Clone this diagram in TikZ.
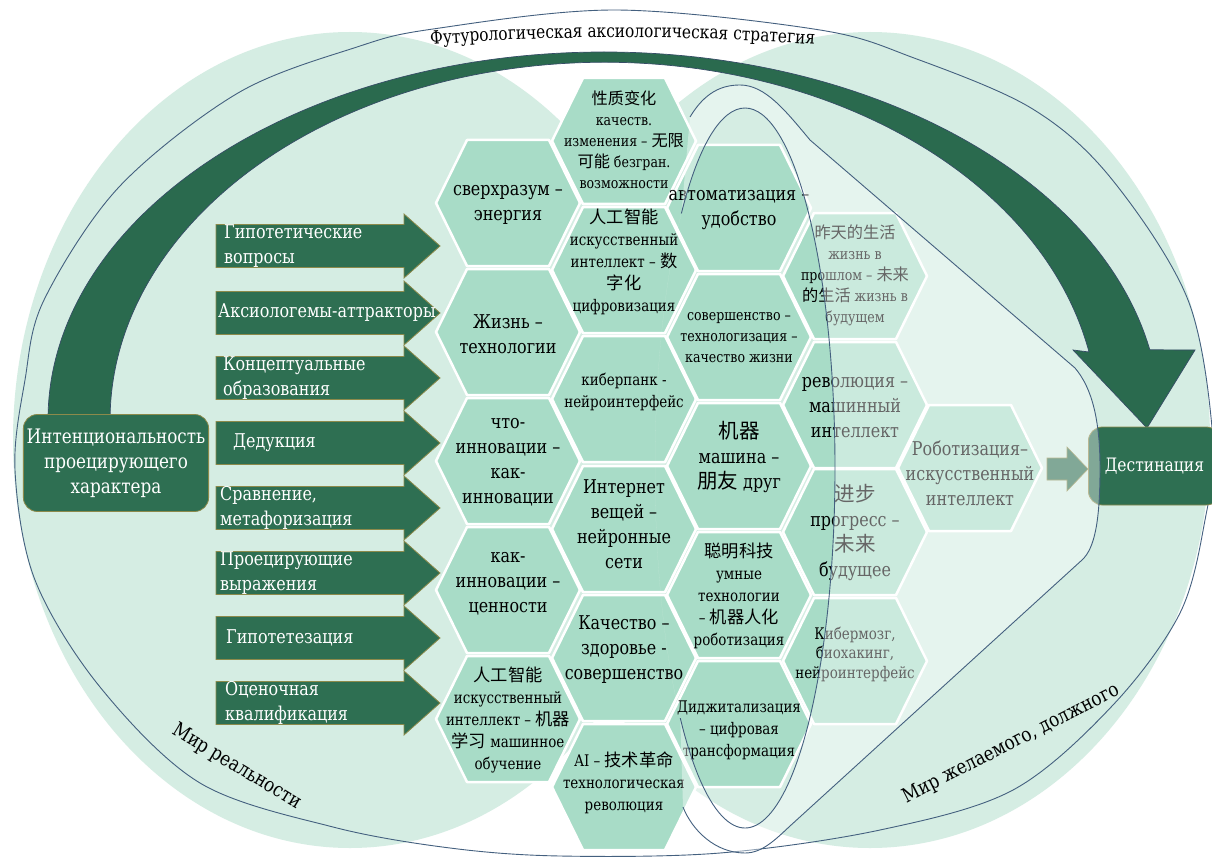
\documentclass[tikz,border=0pt]{standalone}
\usepackage{fontspec}
\setmainfont{DejaVu Serif}[FakeStretch=0.84]
\newfontfamily\rufont{DejaVu Serif}[FakeStretch=0.84]
\newfontfamily\cjk{Noto Sans CJK SC}[Scale=1.08]
\usepackage{xcolor}
\usetikzlibrary{shapes,arrows,positioning,calc,decorations.text}

\definecolor{realmgreen}{HTML}{D5EDE3}
\definecolor{cellgreen}{HTML}{A8DCC7}
\definecolor{pine}{HTML}{2E6F52}
\definecolor{bandgreen}{HTML}{2A6A4E}
\definecolor{olivebrd}{HTML}{8C8A4B}
\definecolor{ink}{HTML}{44607F}

\newcommand{\zh}[1]{{\cjk #1}}
\newcommand{\hexL}{\rufont\fontsize{19}{25}\selectfont}
\newcommand{\hexM}{\rufont\fontsize{16}{22}\selectfont}
\newcommand{\hexS}{\rufont\fontsize{15}{21}\selectfont}

\begin{document}
\begin{tikzpicture}[x=1pt, y=-1pt,
    guide/.style={draw=ink, line width=0.9pt},
    cell/.style={fill=cellgreen, draw=white, line width=2.5pt, line join=round},
    celltext/.style={align=center, inner sep=0pt, text=black},
    blockarrow/.style={fill=pine, draw=olivebrd, line width=0.8pt},
    arrowtext/.style={text=white, anchor=west, align=left, inner sep=0pt, font=\hexL},
    box/.style={rectangle, rounded corners=14pt, fill=pine, draw=olivebrd, line width=0.8pt, text=white, align=center, font=\rufont\fontsize{20}{25}\selectfont}
]
\fill[white] (0,0) rectangle (1212,861);
\useasboundingbox (0,0) rectangle (1212,861);

% two worlds
\fill[realmgreen] (350,440) ellipse [x radius=337, y radius=408];
\fill[realmgreen] (870,440) ellipse [x radius=340, y radius=408];
\draw[guide] plot[smooth cycle, tension=0.55] coordinates {
    (615,10) (820,30) (914,58) (1031,108) (1110,177) (1188,300) (1213,440)
    (1205,520) (1180,613) (1113,705) (1013,790) (880,830) (720,853) (560,856)
    (450,848) (333,827) (200,783) (100,687) (35,580) (15,470) (25,380)
    (44,300) (119,187) (238,93) (357,47) (433,29)};

% strategy arrow
\filldraw[fill=bandgreen, draw=ink!80!black, line width=0.7pt]
    (48,420) arc[start angle=180, end angle=349, x radius=556, y radius=368]
    -- (1195,350) -- (1147,428) -- (1073,350) -- (1089,352)
    arc[start angle=349, end angle=180, x radius=494, y radius=358] -- cycle;

\node[box, minimum width=182pt, minimum height=97pt] (intent) at (116,463) {Интенциональность\\проецирующего\\характера};

\foreach \yy/\xx/\txt [count=\i] in {
    246/224/{Гипотетические\\вопросы},
    313/218/{Аксиологемы-аттракторы},
    378/223/{Концептуальные\\образования},
    443/233/{Дедукция},
    508/220/{Сравнение,\\метафоризация},
    573/220/{Проецирующие\\выражения},
    638/226/{Гипотетезация},
    703/225/{Оценочная\\квалификация}} {
  \filldraw[blockarrow] (216,\yy-21.5) -- (404,\yy-21.5) -- (404,\yy-32) -- (440,\yy)
      -- (404,\yy+32) -- (404,\yy+21.5) -- (216,\yy+21.5) -- cycle;
  \node[arrowtext] (step\i) at (\xx,\yy) {\txt};
}

% honeycomb
\foreach \hx/\hy in {508/203, 508/332, 508/461, 508/590, 508/719,
    624/141, 624/270, 624/399, 624/529, 624/658, 624/787,
    739/208, 739/337, 739/466, 739/595, 739/724,
    855/276, 855/405, 855/532, 855/661, 970/468}
  \filldraw[cell, shift={(\hx,\hy)}] (-72,0) -- (-41,-63) -- (41,-63) -- (72,0) -- (41,63) -- (-41,63) -- cycle;

\node[celltext, font=\hexL] (a1) at (508,205) {сверхразум –\\энергия};
\node[celltext, font=\hexL] (a2) at (508,334) {Жизнь –\\технологии};
\node[celltext, font=\hexL] (a3) at (508,462) {что-\\инновации –\\как-\\инновации};
\node[celltext, font=\hexL] (a4) at (508,584) {как-\\инновации –\\ценности};
\node[celltext, font=\hexM] (a5) at (508,720) {\zh{人工智能}\\искусственный\\интеллект – \zh{机器}\\\zh{学习} машинное\\обучение};

\node[celltext, font=\hexS] (b1) at (624,140) {\zh{性质变化}\\качеств.\\изменения – \zh{无限}\\\zh{可能} безгран.\\возможности};
\node[celltext, font=\hexM] (b2) at (624,262) {\zh{人工智能}\\искусственный\\интеллект – \zh{数}\\\zh{字化}\\цифровизация};
\node[celltext, font=\hexM] (b3) at (624,392) {киберпанк -\\нейроинтерфейс};
\node[celltext, font=\hexL] (b4) at (624,524) {Интернет\\вещей –\\нейронные\\сети};
\node[celltext, font=\hexL] (b5) at (624,650) {Качество –\\здоровье -\\совершенство};
\node[celltext, font=\hexM] (b6) at (624,783) {AI – \zh{技术革命}\\технологическая\\революция};

\node[celltext, font=\hexL] (c1) at (739,210) {автоматизация –\\удобство};
\node[celltext, font=\hexS] (c2) at (739,338) {совершенство –\\технологизация –\\качество жизни};
\node[celltext, font=\hexL] (c3) at (739,457) {\zh{机器}\\машина –\\\zh{朋友} друг};
\node[celltext, font=\hexM] (c4) at (739,596) {\zh{聪明科技}\\умные\\технологии\\– \zh{机器人化}\\роботизация};
\node[celltext, font=\hexM] (c5) at (739,730) {Диджитализация\\– цифровая\\трансформация};

\node[celltext, font=\hexS] (d1) at (855,275) {\zh{昨天的生活}\\жизнь в\\прошлом – \zh{未来}\\\zh{的生活} жизнь в\\будущем};
\node[celltext, font=\hexL] (d2) at (855,408) {революция –\\машинный\\интеллект};
\node[celltext, font=\hexL] (d3) at (855,532) {\zh{进步}\\прогресс –\\\zh{未来}\\будущее};
\node[celltext, font=\rufont\fontsize{16}{19.5}\selectfont] (d4) at (855,654) {Кибермозг,\\биохакинг,\\нейроинтерфейс};
\node[celltext, font=\hexL] (e1) at (970,473) {Роботизация–\\искусственный\\интеллект};

% destination
\filldraw[fill=pine, draw=olivebrd, line width=0.6pt] (1047,458) -- (1067,458) -- (1067,447) -- (1088,469)
    -- (1067,491) -- (1067,480) -- (1047,480) -- cycle;
\node[box, minimum width=132pt, minimum height=78pt, anchor=west, font=\rufont\fontsize{18.5}{23}\selectfont] (dest) at (1088,466) {Дестинация};

% funnel of the desired
\fill[white, fill opacity=0.4, even odd rule]
    (683,807) .. controls (692,830) and (715,853) .. (745,853)
    .. controls (762,853) and (775,840) .. (790,826) -- (1082,560)
    .. controls (1095,548) and (1100,520) .. (1100,468)
    .. controls (1100,420) and (1092,388) .. (1075,368) -- (810,140)
    .. controls (785,110) and (765,85) .. (740,85)
    .. controls (722,85) and (705,92) .. (690,117)
    -- ($(745,468)+(225:90 and 360)$) arc[start angle=225, end angle=136, x radius=90, y radius=360] -- cycle
    (745,468) ellipse [x radius=90, y radius=360];
\draw[guide] (683,807) .. controls (692,830) and (715,853) .. (745,853)
    .. controls (762,853) and (775,840) .. (790,826) -- (1082,560)
    .. controls (1095,548) and (1100,520) .. (1100,468)
    .. controls (1100,420) and (1092,388) .. (1075,368) -- (810,140)
    .. controls (785,110) and (765,85) .. (740,85)
    .. controls (722,85) and (705,92) .. (690,117);
\draw[guide] ($(745,468)+(225:90 and 360)$) arc[start angle=225, end angle=496, x radius=90, y radius=360];

% captions
\path[decorate, decoration={text along path, text align=center,
    text={|\rufont\fontsize{18.3}{20}\selectfont|Футурологическая аксиологическая стратегия}}]
    (390,48) .. controls (540,34) and (700,34) .. (855,48);
\node[font=\rufont\fontsize{20}{26}\selectfont, rotate=-31] (real) at (237,767) {Мир реальности};
\node[font=\rufont\fontsize{20}{26}\selectfont, rotate=27] (ideal) at (1011,744) {Мир желаемого, должного};
\end{tikzpicture}
\end{document}
